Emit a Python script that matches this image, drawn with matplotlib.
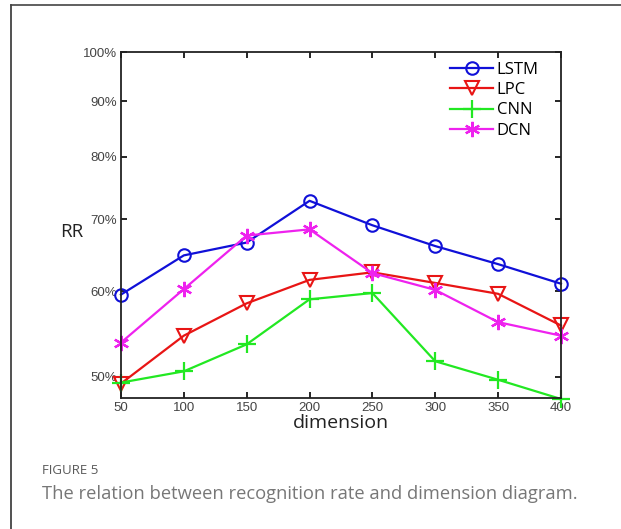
import matplotlib
matplotlib.use("Agg")
import matplotlib.pyplot as plt
from matplotlib.lines import Line2D
from matplotlib.ticker import FixedLocator, NullLocator

dims = [50, 100, 150, 200, 250, 300, 350, 400]
lstm = [59.6, 64.8, 66.6, 72.8, 69.1, 66.1, 63.6, 61.0]
lpc = [49.3, 54.6, 58.5, 61.5, 62.5, 61.1, 59.7, 55.8]
cnn = [49.4, 50.6, 53.6, 59.0, 59.8, 51.7, 49.7, 47.7]
dcn = [53.8, 60.3, 67.6, 68.5, 62.4, 60.2, 56.2, 54.6]
yticks = [50, 60, 70, 80, 90, 100]
ytick_labels = ["50%", "60%", "70%", "80%", "90%", "100%"]

plt.rcParams['font.family'] = ['Liberation Sans', 'DejaVu Sans']
sans = ["Open Sans", "DejaVu Sans"]

fig = plt.figure(figsize=(6.21, 5.29), dpi=100)
ax = fig.add_axes([0.1948, 0.2476, 0.7085, 0.6541])

asterisk = (6, 2, 0)
ax.plot(dims, lstm, c="#1010d8", lw=1.6, marker="o", ms=9, mfc="none",
        mec="#1010d8", mew=1.5, label="LSTM", clip_on=False)
ax.plot(dims, lpc, c="#e81515", lw=1.6, marker="v", ms=10, mfc="none",
        mec="#e81515", mew=1.5, label="LPC", clip_on=False)
ax.plot(dims, cnn, c="#22e822", lw=1.6, marker="+", ms=13, mew=1.6,
        label="CNN", clip_on=False)
ax.plot(dims, dcn, c="#ee22ee", lw=1.6, marker=asterisk, ms=11, mew=1.6,
        label="DCN", clip_on=False)

ax.set_yscale("log")
ax.set_ylim(47.8, 100)
ax.set_xlim(50, 400)
ax.yaxis.set_major_locator(FixedLocator(yticks))
ax.yaxis.set_minor_locator(NullLocator())
ax.set_yticklabels(ytick_labels)
ax.set_xticks(dims)
ax.tick_params(axis='both', which='major', direction='in', length=4,
               width=1.2, top=True, right=True, labelsize=9.5,
               labelcolor="#444444", pad=3)
for s in ax.spines.values():
    s.set_linewidth(1.3)
    s.set_color("#222222")

ax.set_xlabel("dimension", fontsize=14, color="#222222", labelpad=0,
              family=sans)
fig.text(72 / 621, 1 - 232 / 529, "RR", fontsize=13.5, color="#222222",
         ha="center", va="center", family=sans)

ax.legend(loc="upper right", bbox_to_anchor=(0.972, 1.0), frameon=False,
          prop={"family": sans, "size": 12}, handlelength=2.6,
          handletextpad=0.2, labelspacing=0.25, borderaxespad=0.2)

fig.text(42 / 621, 1 - 470 / 529, "FIGURE 5", fontsize=9.5,
         color="#5a5a5a", va="center", family=sans)
fig.text(42 / 621, 1 - 494 / 529,
         "The relation between recognition rate and dimension diagram.",
         fontsize=13.2, color="#777777", va="center", family=sans)

fig.add_artist(Line2D([11 / 621, 11 / 621], [0, 1 - 5 / 529],
                      transform=fig.transFigure, color="#333333", lw=1.2))
fig.add_artist(Line2D([11 / 621, 1], [1 - 5 / 529, 1 - 5 / 529],
                      transform=fig.transFigure, color="#444444", lw=1.2))

fig.savefig("out.png", dpi=100)
